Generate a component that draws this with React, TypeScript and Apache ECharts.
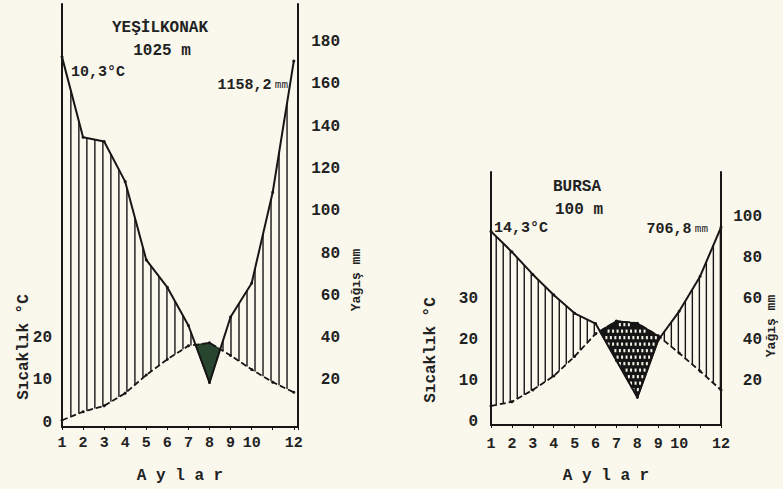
import React, { useEffect, useRef } from 'react';
import * as echarts from 'echarts';

// ---- data ----
const months = [1, 2, 3, 4, 5, 6, 7, 8, 9, 10, 11, 12];
const monthTickLabels = ['1', '2', '3', '4', '5', '6', '7', '8', '9', '10', '', '12'];

const yesilkonakPrecip = [173, 135, 133, 114, 77, 64, 46, 19, 50, 66, 109, 171];
const yesilkonakTemp = [0.6, 2.6, 4.0, 7.0, 11.3, 15.0, 18.2, 18.9, 15.9, 12.6, 9.6, 7.2];
const bursaPrecip = [93, 83, 72, 62, 53, 48, 30, 12, 40, 54, 71, 95];
const bursaTemp = [3.9, 4.9, 7.8, 11.2, 16.0, 21.5, 24.6, 24.1, 21.0, 16.8, 12.4, 7.8];

const yesilkonakTempTicks = [0, 10, 20];
const yesilkonakPrecipTicks = [20, 40, 60, 80, 100, 120, 140, 160, 180];
const bursaTempTicks = [0, 10, 20, 30];
const bursaPrecipTicks = [20, 40, 60, 80, 100];

const FONT = '"Liberation Mono", "DejaVu Sans Mono", monospace';
const INK = '#161616';
const TEXT = '#222';

function interp(arr: number[], x: number) {
  const idx = x - 1;
  const i0 = Math.max(0, Math.min(10, Math.floor(idx)));
  const f = idx - i0;
  return arr[i0] + (arr[i0 + 1] - arr[i0]) * f;
}

function hatchData(P: number[], T: number[], start: number, step: number) {
  const out: number[][] = [];
  for (let x = start; x <= 12.0001; x += step) {
    const p = interp(P, x);
    const t2 = 2 * interp(T, x);
    if (p - t2 > 0.8) out.push([x, p, t2]);
  }
  return out;
}

function aridRegions(P: number[], T: number[]) {
  const regions: number[][][] = [];
  const d = (i: number) => 2 * T[i] - P[i];
  let top: number[][] | null = null;
  let bot: number[][] = [];
  for (let i = 0; i < 12; i++) {
    const m = i + 1;
    if (d(i) > 0) {
      if (!top) {
        top = [];
        bot = [];
        if (i > 0) {
          const f = d(i - 1) / (d(i - 1) - d(i));
          const xm = i + f;
          const y = P[i - 1] + (P[i] - P[i - 1]) * f;
          top.push([xm, y]);
          bot.push([xm, y]);
        }
      }
      top.push([m, 2 * T[i]]);
      bot.push([m, P[i]]);
    } else if (top) {
      const f = d(i - 1) / (d(i - 1) - d(i));
      const xm = i + f;
      const y = P[i - 1] + (P[i] - P[i - 1]) * f;
      top.push([xm, y]);
      bot.push([xm, y]);
      regions.push(top.concat(bot.slice().reverse()));
      top = null;
    }
  }
  if (top) regions.push(top.concat(bot.slice().reverse()));
  return regions;
}

function inside(poly: number[][], x: number, y: number) {
  let c = false;
  for (let i = 0, j = poly.length - 1; i < poly.length; j = i++) {
    const [xi, yi] = poly[i];
    const [xj, yj] = poly[j];
    if ((yi > y) !== (yj > y) && x < ((xj - xi) * (y - yi)) / (yj - yi) + xi) c = !c;
  }
  return c;
}

function buildSeries(P: number[], T: number[], idx: number, hatchStart: number, hatchStep: number, kind: 'green' | 'dots') {
  const regions = aridRegions(P, T);
  const xAxisIndex = idx;
  const tempAxis = idx * 2;
  const precAxis = idx * 2 + 1;
  return [
    {
      type: 'custom',
      xAxisIndex,
      yAxisIndex: precAxis,
      z: 2,
      silent: true,
      data: hatchData(P, T, hatchStart, hatchStep),
      renderItem: (params: any, api: any) => {
        const x = api.value(0);
        const a = api.coord([x, api.value(1)]);
        const b = api.coord([x, api.value(2)]);
        return {
          type: 'line',
          shape: { x1: a[0], y1: a[1], x2: b[0], y2: b[1] },
          style: { stroke: INK, lineWidth: 1.4 },
        };
      },
    },
    {
      type: 'custom',
      xAxisIndex,
      yAxisIndex: precAxis,
      z: 3,
      silent: true,
      data: regions.map((r, i) => [r[0][0], r[0][1], i]),
      renderItem: (params: any, api: any) => {
        const poly = regions[params.dataIndex].map((pt) => api.coord(pt));
        if (kind === 'green') {
          return {
            type: 'polygon',
            shape: { points: poly },
            style: { fill: '#27452f', stroke: '#1b2f21', lineWidth: 1.2 },
          };
        }
        const children: any[] = [
          { type: 'polygon', shape: { points: poly }, style: { fill: '#151515', stroke: INK, lineWidth: 1.5 } },
        ];
        let minX = Infinity, maxX = -Infinity, minY = Infinity, maxY = -Infinity;
        poly.forEach(([px, py]: number[]) => {
          minX = Math.min(minX, px); maxX = Math.max(maxX, px);
          minY = Math.min(minY, py); maxY = Math.max(maxY, py);
        });
        let row = 0;
        for (let y = minY + 3.5; y < maxY - 2; y += 6.5, row++) {
          for (let x = minX + 2 + (row % 2) * 2.2; x < maxX; x += 4.5) {
            if (inside(poly, x - 1.5, y - 2) && inside(poly, x + 1.5, y + 2)) {
              children.push({
                type: 'rect',
                shape: { x: x - 1, y: y - 1.6, width: 2, height: 3.2 },
                style: { fill: '#f3f1e4' },
              });
            }
          }
        }
        return { type: 'group', children };
      },
    },
    {
      type: 'line',
      xAxisIndex,
      yAxisIndex: precAxis,
      z: 4,
      silent: true,
      data: months.map((m, i) => [m, P[i]]),
      symbol: 'circle',
      symbolSize: 3,
      itemStyle: { color: INK },
      lineStyle: { color: INK, width: 2 },
    },
    {
      type: 'line',
      xAxisIndex,
      yAxisIndex: tempAxis,
      z: 4,
      silent: true,
      data: months.map((m, i) => [m, T[i]]),
      symbol: 'circle',
      symbolSize: 3,
      itemStyle: { color: INK },
      lineStyle: { color: INK, width: 1.8, type: [6, 3] },
    },
  ];
}

function xAxisCfg(gridIndex: number, max: number, margin: number, nameGap: number) {
  return {
    type: 'value',
    gridIndex,
    min: 1,
    max,
    interval: 1,
    axisLine: { show: true, onZero: false, lineStyle: { color: INK, width: 2 } },
    axisTick: { show: true, length: 3, lineStyle: { color: INK, width: 1 } },
    splitLine: { show: false },
    axisLabel: {
      margin,
      color: TEXT,
      fontFamily: FONT,
      fontWeight: 'bold',
      fontSize: 15,
      formatter: (v: number) => (Number.isInteger(v) && v >= 1 && v <= 12 ? monthTickLabels[v - 1] : ''),
    },
    name: 'A y l a r',
    nameLocation: 'middle',
    nameGap,
    nameTextStyle: { color: TEXT, fontFamily: FONT, fontWeight: 'bold', fontSize: 16 },
  };
}

function yAxisCfg(gridIndex: number, position: 'left' | 'right', min: number, max: number, split: number, ticks: number[], margin: number) {
  return {
    type: 'value',
    gridIndex,
    position,
    min,
    max,
    splitNumber: split,
    axisLine: { show: true, onZero: false, lineStyle: { color: INK, width: 2 } },
    axisTick: { show: false },
    splitLine: { show: false },
    axisLabel: {
      margin,
      align: 'right',
      color: TEXT,
      fontFamily: FONT,
      fontWeight: 'bold',
      fontSize: 16,
      showMinLabel: true,
      showMaxLabel: true,
      formatter: (v: number) => (ticks.includes(v) ? String(Math.abs(v)) : ''),
    },
  };
}

function txt(text: string, x: number, y: number, size: number, opts: any = {}) {
  return {
    type: 'text',
    x,
    y,
    rotation: opts.rotation || 0,
    style: {
      text,
      fill: TEXT,
      font: `${opts.bold === false ? '' : 'bold '}${size}px ${FONT}`,
      align: opts.align || 'center',
      verticalAlign: 'middle',
    },
  };
}

export default function App() {
  const ref = useRef<HTMLDivElement>(null);
  useEffect(() => {
    if (!ref.current) return;
    const chart = echarts.init(ref.current, null, { renderer: 'svg' });
    const mmRich = {
      a: { fontFamily: FONT, fontWeight: 'bold', fontSize: 15, fill: TEXT },
      b: { fontFamily: FONT, fontSize: 11, fill: TEXT },
    };
    chart.setOption({
      animation: false,
      backgroundColor: '#faf8ed',
      grid: [
        { left: 62, top: 4, width: 236, height: 432 },
        { left: 491, top: 172, width: 230, height: 253 },
      ],
      xAxis: [xAxisCfg(0, 12.2, 9, 41), xAxisCfg(1, 12, 12, 43)],
      yAxis: [
        yAxisCfg(0, 'left', -1, 99, 10, yesilkonakTempTicks, 10),
        yAxisCfg(0, 'right', -2, 198, 10, yesilkonakPrecipTicks, 42),
        yAxisCfg(1, 'left', -0.75, 61, 6, bursaTempTicks, 13),
        yAxisCfg(1, 'right', -1.5, 122, 6, bursaPrecipTicks, 41),
      ],
      series: [
        ...buildSeries(yesilkonakPrecip, yesilkonakTemp, 0, 1.42, 0.38, 'green'),
        ...buildSeries(bursaPrecip, bursaTemp, 1, 1.25, 0.335, 'dots'),
      ],
      graphic: [
        txt('YEŞİLKONAK', 160, 28, 16),
        txt('1025 m', 162, 51, 16),
        txt('10,3°C', 71, 72, 15, { align: 'left' }),
        {
          type: 'text', x: 288, y: 85,
          style: { text: '{a|1158,2} {b|mm}', align: 'right', verticalAlign: 'middle', rich: mmRich },
        },
        txt('Sıcaklık °C', 24, 347, 16, { rotation: Math.PI / 2 }),
        txt('Yağış mm', 356, 280, 13, { rotation: Math.PI / 2 }),
        txt('BURSA', 577, 187, 16),
        txt('100 m', 579, 210, 16),
        txt('14,3°C', 494, 228, 15, { align: 'left' }),
        {
          type: 'text', x: 708, y: 229,
          style: { text: '{a|706,8} {b|mm}', align: 'right', verticalAlign: 'middle', rich: mmRich },
        },
        txt('Sıcaklık °C', 431, 350, 16, { rotation: Math.PI / 2 }),
        txt('Yağış mm', 771, 326, 13, { rotation: Math.PI / 2 }),
      ],
    });
    return () => chart.dispose();
  }, []);
  return <div ref={ref} style={{ position: 'fixed', left: 0, top: 0, width: 783, height: 489 }} />;
}
